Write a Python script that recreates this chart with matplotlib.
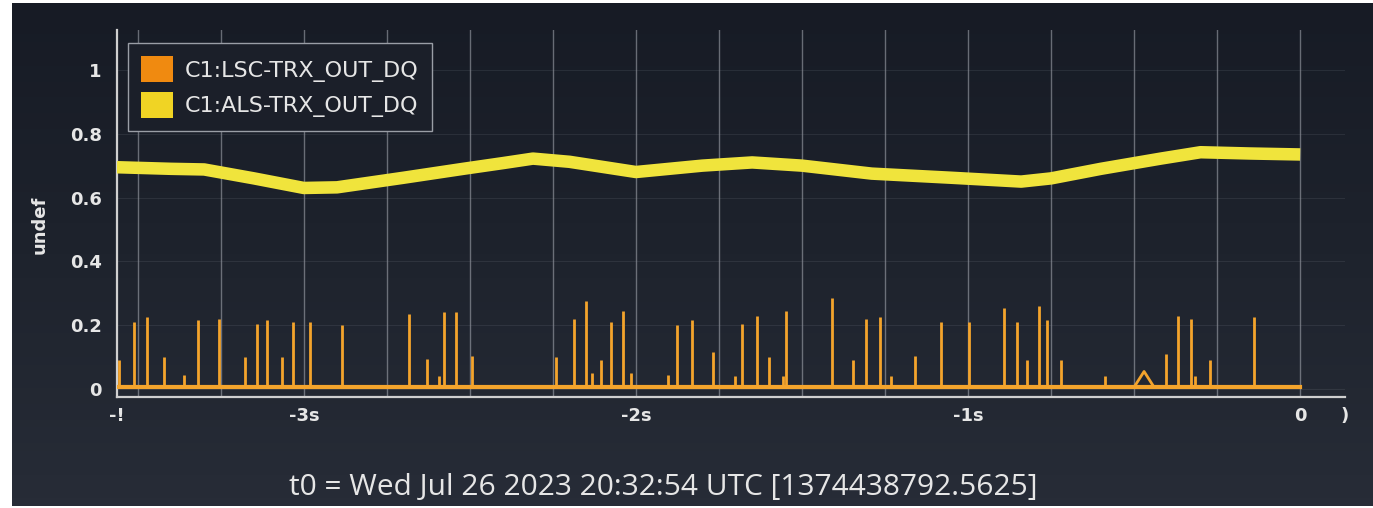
import numpy as np
import matplotlib.pyplot as plt
from matplotlib.patches import Patch

# channel names and the t0 stamp
orange_name = 'C1:LSC-TRX_OUT_DQ'
yellow_name = 'C1:ALS-TRX_OUT_DQ'
t0_text = 't0 = Wed Jul 26 2023 20:32:54 UTC [1374438792.5625]'

# ALS trace (seconds before t0, value)
als_t = [-3.5625, -3.40, -3.30, -3.15, -3.00, -2.90, -2.70, -2.52, -2.40, -2.31,
         -2.20, -2.00, -1.80, -1.65, -1.50, -1.29, -1.05, -0.84, -0.75, -0.60,
         -0.42, -0.30, -0.15, 0.0]
als_v = [0.695, 0.690, 0.688, 0.660, 0.630, 0.632, 0.662, 0.690, 0.708, 0.722,
         0.712, 0.680, 0.700, 0.710, 0.700, 0.675, 0.662, 0.650, 0.660, 0.690,
         0.722, 0.742, 0.738, 0.735]

# LSC trace: flat baseline with narrow spikes
lsc_base = 0.006
spike_t = [-3.555, -3.511, -3.471, -3.422, -3.362, -3.319, -3.255, -3.176, -3.140, -3.112,
           -3.067, -3.033, -2.981, -2.885, -2.682, -2.629, -2.592, -2.579, -2.542, -2.495,
           -2.240, -2.187, -2.150, -2.131, -2.106, -2.075, -2.040, -2.016, -1.904, -1.877,
           -1.831, -1.768, -1.702, -1.681, -1.636, -1.599, -1.557, -1.548, -1.410, -1.346,
           -1.307, -1.265, -1.232, -1.160, -1.081, -0.997, -0.893, -0.852, -0.823, -0.786,
           -0.762, -0.719, -0.588, -0.403, -0.368, -0.328, -0.316, -0.270, -0.139]
spike_h = [0.09, 0.21, 0.225, 0.10, 0.045, 0.215, 0.22, 0.10, 0.205, 0.215,
           0.10, 0.21, 0.21, 0.20, 0.235, 0.095, 0.04, 0.24, 0.24, 0.105,
           0.10, 0.22, 0.275, 0.05, 0.09, 0.21, 0.245, 0.05, 0.045, 0.20,
           0.215, 0.115, 0.04, 0.205, 0.23, 0.10, 0.04, 0.245, 0.285, 0.09,
           0.22, 0.225, 0.04, 0.105, 0.21, 0.21, 0.255, 0.21, 0.09, 0.26,
           0.215, 0.09, 0.04, 0.11, 0.23, 0.22, 0.04, 0.09, 0.225]
bump_t = [-0.50, -0.47, -0.44]
bump_v = [lsc_base, 0.055, lsc_base]

x_ticks = [-3.5625, -3, -2, -1, 0, 0.135]
x_labels = ['-!', '-3s', '-2s', '-1s', '0', ')']
y_ticks = [0, 0.2, 0.4, 0.6, 0.8, 1]
y_labels = ['0', '0.2', '0.4', '0.6', '0.8', '1']

fg = '#e6e6e6'
c_orange = '#f4a42c'
c_yellow = '#f0e43c'

fig = plt.figure(figsize=(13.73, 5.08), dpi=100, facecolor='white')

# screen background: darker at the top, lighter at the bottom
bg_ax = fig.add_axes([12 / 1373, 2 / 508, 1, 503 / 508], zorder=-1)
grad = np.linspace(0, 1, 64).reshape(-1, 1)
bg_ax.imshow(grad, aspect='auto', cmap=plt.matplotlib.colors.LinearSegmentedColormap.from_list(
    'scr', ['#171b25', '#1e232d', '#272c37']), extent=[0, 1, 1, 0])
bg_ax.axis('off')

ax = fig.add_axes([117 / 1373, 1 - 397 / 508, 1228 / 1373, 367 / 508])
ax.set_facecolor('none')

ax.set_xlim(-3.5625, 0.135)
ax.set_ylim(-0.025, 1.125)

# grid
for gx in np.arange(-3.5, 0.01, 0.25):
    ax.axvline(gx, color='#b8bcc4', lw=1, alpha=0.5, zorder=1)
for gy in y_ticks:
    ax.axhline(gy, color='#8a909a', lw=0.8, alpha=0.15, zorder=1)

# traces
ax.plot(als_t, als_v, color=c_yellow, lw=9, solid_capstyle='butt', zorder=3)
ax.plot([als_t[0], 0], [lsc_base, lsc_base], color=c_orange, lw=3, zorder=4)
ax.vlines(spike_t, lsc_base, spike_h, color=c_orange, lw=2, zorder=4)
ax.plot(bump_t, bump_v, color=c_orange, lw=2, zorder=4)

for s in ['top', 'right']:
    ax.spines[s].set_visible(False)
for s in ['left', 'bottom']:
    ax.spines[s].set_color('#d0d0d0')
    ax.spines[s].set_linewidth(1.6)

ax.set_xticks(x_ticks)
ax.set_xticklabels(x_labels)
ax.set_yticks(y_ticks)
ax.set_yticklabels(y_labels)
ax.tick_params(length=0, colors=fg, labelsize=13, pad=11)
ax.tick_params(axis='x', pad=7)
for lab in ax.get_xticklabels() + ax.get_yticklabels():
    lab.set_fontweight('bold')

ax.set_ylabel('undef', color=fg, fontsize=13, fontweight='bold')
ax.yaxis.set_label_coords(-0.056, 0.47)

handles = [Patch(facecolor='#f08a10', edgecolor='none', label=orange_name),
           Patch(facecolor='#f0d424', edgecolor='none', label=yellow_name)]
leg = ax.legend(handles=handles, loc='upper left', bbox_to_anchor=(0.009, 0.965),
                borderaxespad=0, fontsize=16, handlelength=1.44, handleheight=1.44,
                handletextpad=0.5, borderpad=0.6, labelspacing=0.42,
                facecolor='#1b1f29', edgecolor='#9a9ea6', framealpha=1,
                fancybox=False, labelcolor=fg)
leg.get_frame().set_linewidth(1.0)

fig.text(0.483, 0.041, t0_text, ha='center', va='center', color=fg,
         fontsize=21.5, family='Open Sans')

fig.savefig('out.png', dpi=100, facecolor=fig.get_facecolor())
